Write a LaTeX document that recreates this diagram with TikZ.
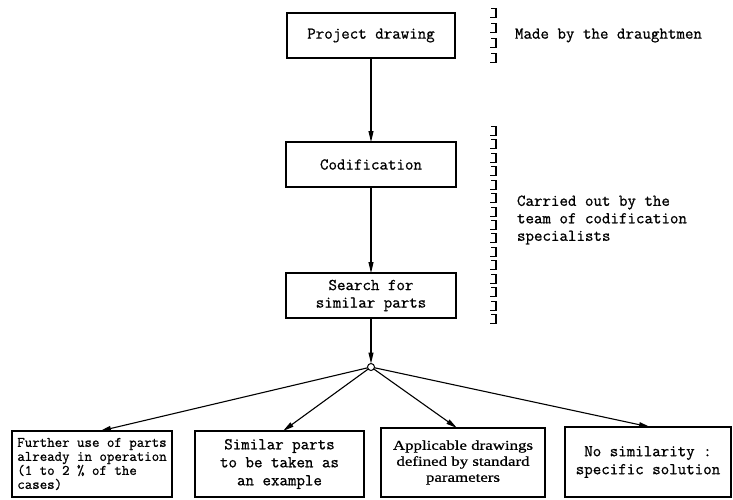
\documentclass[tikz,border=0pt]{standalone}
\usepackage{fontspec}
\usetikzlibrary{arrows.meta}
\newfontfamily\typer[FakeBold=0.9]{Latin Modern Mono}
\newfontfamily\plainserif[FakeStretch=1.25,FakeBold=0.8]{Liberation Serif}
\begin{document}
\begin{tikzpicture}[x=1pt,y=-1pt,
  every node/.style={inner sep=0pt, outer sep=0pt},
  tt/.style={font=\fontsize{16.5}{17.5}\typer},
  stagebox/.style={draw, line width=1.1pt, rectangle, tt, align=center},
  casebox/.style={draw, line width=1.1pt, rectangle, align=center},
  flow/.style={line width=1.1pt, -{Triangle[length=11pt,width=5pt]}},
  bracketmark/.style={line width=1.1pt}
]
\useasboundingbox (0,0) rectangle (733,499);

% main column of stages
\node[stagebox, minimum width=168pt, minimum height=45pt] (P) at (371,35.5) {Project drawing};
\node[stagebox, minimum width=170pt, minimum height=45pt] (C) at (371,164.5) {Codification};
\node[stagebox, minimum width=170pt, minimum height=45pt] (S) at (371,295.5) {Search for\\similar parts};
\node[draw, circle, line width=1pt, fill=white, minimum size=7pt] (J) at (371,367) {};

\draw[flow] (P.south) -- (C.north);
\draw[flow] (C.south) -- (S.north);
\draw[flow] (S.south) -- (J.north);

% the four possible outcomes
\node[casebox, minimum width=160pt, minimum height=66pt, align=left,
      font=\fontsize{14.5}{14}\typer] (B1) at (92,464)
  {Further use of parts\\already in operation\\(1 to 2 \% of the\\cases)};
\node[casebox, minimum width=169pt, minimum height=66pt,
      font=\fontsize{16.5}{18}\typer] (B2) at (279.5,464)
  {Similar parts\\to be taken as\\an example};
\node[casebox, minimum width=164pt, minimum height=69pt,
      font=\fontsize{13.5}{16}\plainserif] (B3) at (463,462.5)
  {Applicable drawings\\defined by standard\\parameters};
\node[casebox, minimum width=166pt, minimum height=70pt,
      font=\fontsize{16.5}{18}\typer] (B4) at (648,462)
  {No similarity :\\specific solution};

\draw[flow] (J) -- ([xshift=8pt]B1.north);
\draw[flow] (J) -- ([xshift=3.5pt]B2.north);
\draw[flow] (J) -- ([xshift=-6pt]B3.north);
\draw[flow] (J) -- ([xshift=2pt]B4.north);

% responsibility notes with their bracket columns
\foreach \yy in {13,28,43,58}
  \draw[bracketmark] (491,\yy-4.5) -- (496,\yy-4.5) -- (496,\yy+4.5) -- (490,\yy+4.5);
\foreach \k in {0,...,14}
  \draw[bracketmark] (491,131+13.43*\k-4.5) -- (496,131+13.43*\k-4.5)
        -- (496,131+13.43*\k+4.5) -- (490,131+13.43*\k+4.5);

\node[tt, anchor=west] (N1) at (515,35.5) {Made by the draughtmen};
\node[tt, anchor=west, align=left] (N2) at (517,220)
  {Carried out by the\\team of codification\\specialists};
\end{tikzpicture}
\end{document}
